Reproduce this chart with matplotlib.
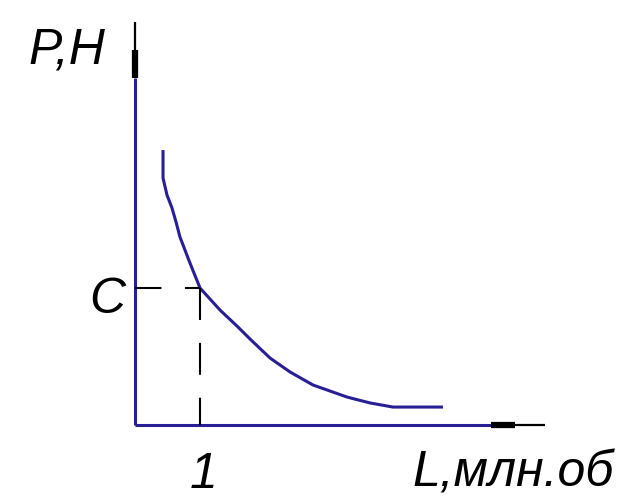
import matplotlib
matplotlib.use("Agg")
import matplotlib.pyplot as plt
from matplotlib import font_manager

# ---- data ----
L_vals = [0.431, 0.431, 0.492, 0.569, 0.631, 0.692, 0.846, 1.00, 1.308, 1.585,
          1.769, 2.077, 2.385, 2.738, 3.262, 3.615, 3.969, 4.738]
P_vals = [2.007, 1.803, 1.679, 1.584, 1.482, 1.372, 1.182, 1.00, 0.839, 0.715,
          0.628, 0.489, 0.387, 0.292, 0.204, 0.161, 0.131, 0.131]
C_value = 1.0   # P at L = 1
L_one = 1.0
x_axis_end = 6.31
y_axis_end = 2.94
y_label = "P,H"
x_label = "L,млн.об"
c_label = "C"
one_label = "1"

BLUE = "#281e96"
avail = {f.name for f in font_manager.fontManager.ttflist}
fam = [f for f in ["Liberation Sans Narrow", "Liberation Sans", "DejaVu Sans"] if f in avail]

fig = plt.figure(figsize=(6.24, 4.98), dpi=100)
ax = fig.add_axes([0, 0, 1, 1])
ax.set_xlim(-135 / 65, 489 / 65)
ax.set_ylim(-73 / 137, 425 / 137)
ax.axis("off")
plt.rcParams["lines.scale_dashes"] = False

# axes lines
ax.plot([0, 0], [0, 2.533], color=BLUE, lw=2.2, solid_capstyle="butt")
ax.plot([0, 5.477], [0, 0], color=BLUE, lw=2.2, solid_capstyle="butt")
# arrowheads (black)
ax.plot([0, 0], [2.533, 2.737], color="black", lw=4.5, solid_capstyle="butt")
ax.plot([0, 0], [2.737, y_axis_end], color="black", lw=1.6, solid_capstyle="butt")
ax.plot([5.477, 5.85], [0, 0], color="black", lw=4.5, solid_capstyle="butt")
ax.plot([5.85, x_axis_end], [0, 0], color="black", lw=1.6, solid_capstyle="butt")

# curve
ax.plot(L_vals, P_vals, color=BLUE, lw=2.2, solid_capstyle="butt", solid_joinstyle="round")

# dashed guides
ax.plot([0, L_one], [C_value, C_value], color="black", lw=1.5,
        linestyle=(0, (19, 17)))
ax.plot([L_one, L_one], [C_value, 0], color="black", lw=1.5,
        linestyle=(0, (23, 16.5)))

tk = dict(family=fam, style="italic", color="black", fontsize=36)
fig.text(28 / 624, 1 - 63 / 498, y_label, ha="left", va="baseline", **tk)
fig.text(125 / 624, 1 - 313 / 498, c_label, ha="right", va="baseline", **tk)
fig.text(204 / 624, 1 - 488 / 498, one_label, ha="center", va="baseline", **tk)
fig.text(412 / 624, 1 - 486 / 498, x_label, ha="left", va="baseline", **tk)

fig.savefig("out.png", dpi=100, facecolor="white")
